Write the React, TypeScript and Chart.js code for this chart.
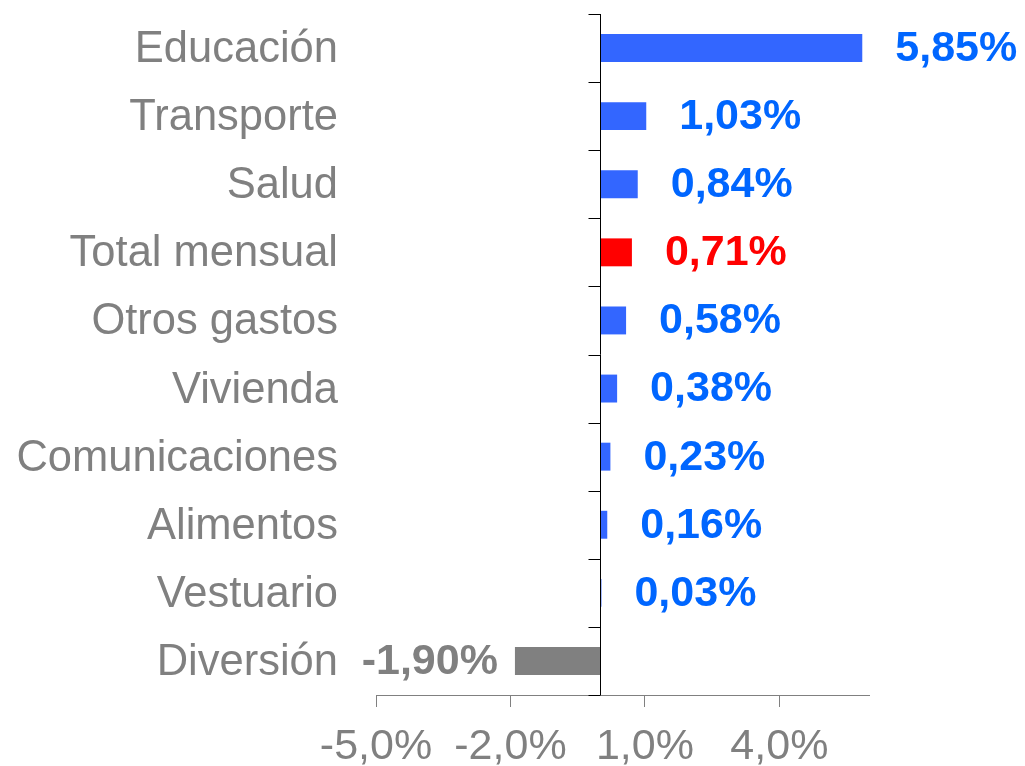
import React, { useEffect, useRef } from "react";
import { Chart, registerables } from "chart.js";

Chart.register(...registerables);

const categories = [
  "Educación",
  "Transporte",
  "Salud",
  "Total mensual",
  "Otros gastos",
  "Vivienda",
  "Comunicaciones",
  "Alimentos",
  "Vestuario",
  "Diversión",
];
const values = [5.85, 1.03, 0.84, 0.71, 0.58, 0.38, 0.23, 0.16, 0.03, -1.9];
const xTicks = [-5, -2, 1, 4];
const xMin = -5;
const xMax = 6;

const FONT = "'Liberation Sans', Arial, sans-serif";
const GRAY = "#808080";
const barColor = (i: number) =>
  categories[i] === "Total mensual" ? "#FF0000" : values[i] < 0 ? GRAY : "#3366FF";
const labelColor = (i: number) =>
  categories[i] === "Total mensual" ? "#FF0000" : values[i] < 0 ? GRAY : "#0066FF";
const fmt = (v: number, d: number) => v.toFixed(d).replace(".", ",") + "%";

const axisPlugin = {
  id: "zeroAxis",
  afterDatasetsDraw(chart: any) {
    const { ctx, chartArea, scales } = chart;
    const x0 = Math.round(scales.x.getPixelForValue(0)) + 0.5;
    ctx.save();
    ctx.strokeStyle = "#000000";
    ctx.lineWidth = 1;
    ctx.beginPath();
    ctx.moveTo(x0, chartArea.top);
    ctx.lineTo(x0, chartArea.bottom);
    const n = categories.length;
    const step = (chartArea.bottom - chartArea.top) / n;
    for (let k = 0; k <= n; k++) {
      const y = Math.round(chartArea.top + k * step) + 0.5;
      ctx.moveTo(x0 - 12, y);
      ctx.lineTo(x0, y);
    }
    ctx.stroke();

    // data labels
    const meta = chart.getDatasetMeta(0);
    ctx.font = `bold 43px ${FONT}`;
    ctx.textBaseline = "middle";
    meta.data.forEach((bar: any, i: number) => {
      const v = values[i];
      ctx.fillStyle = labelColor(i);
      if (v >= 0) {
        ctx.textAlign = "left";
        ctx.fillText(fmt(v, 2), bar.x + 33, bar.y + 1);
      } else {
        ctx.textAlign = "right";
        ctx.fillText(fmt(v, 2), bar.x - 17, bar.y + 1);
      }
    });
    ctx.restore();
  },
};

export default function App() {
  const ref = useRef<HTMLCanvasElement>(null);
  useEffect(() => {
    if (!ref.current) return;
    const chart = new Chart(ref.current, {
      type: "bar",
      data: {
        labels: categories,
        datasets: [
          {
            data: values,
            backgroundColor: values.map((_, i) => barColor(i)),
            borderWidth: 0,
            barPercentage: 0.41,
            categoryPercentage: 1,
          },
        ],
      },
      options: {
        indexAxis: "y",
        responsive: false,
        animation: false,
        devicePixelRatio: 1,
        layout: { padding: { top: 14, right: 156, left: 0, bottom: 0 } },
        plugins: { legend: { display: false }, tooltip: { enabled: false } },
        scales: {
          x: {
            min: xMin,
            max: xMax,
            afterBuildTicks: (s: any) => {
              s.ticks = xTicks.map((v) => ({ value: v }));
            },
            afterFit: (s: any) => {
              s.height = 71;
            },
            grid: {
              drawOnChartArea: false,
              drawTicks: true,
              tickLength: 12,
              color: GRAY,
            },
            border: { display: true, color: GRAY, width: 1 },
            ticks: {
              color: GRAY,
              font: { family: FONT, size: 43 },
              padding: 14,
              maxRotation: 0,
              autoSkip: false,
              callback: (v: any) => fmt(Number(v), 1),
            },
          },
          y: {
            afterFit: (s: any) => {
              s.width = 376;
              s.paddingTop = 0;
              s.paddingBottom = 0;
            },
            grid: { display: false, drawTicks: false },
            border: { display: false },
            ticks: {
              color: GRAY,
              font: { family: FONT, size: 43.5 },
              padding: 38,
              labelOffset: 2,
              autoSkip: false,
            },
          },
        },
      },
      plugins: [axisPlugin],
    });
    return () => chart.destroy();
  }, []);
  return (
    <div style={{ position: "absolute", left: 0, top: 0, width: 1025, height: 766, background: "#fff" }}>
      <canvas ref={ref} width={1025} height={766} />
    </div>
  );
}
